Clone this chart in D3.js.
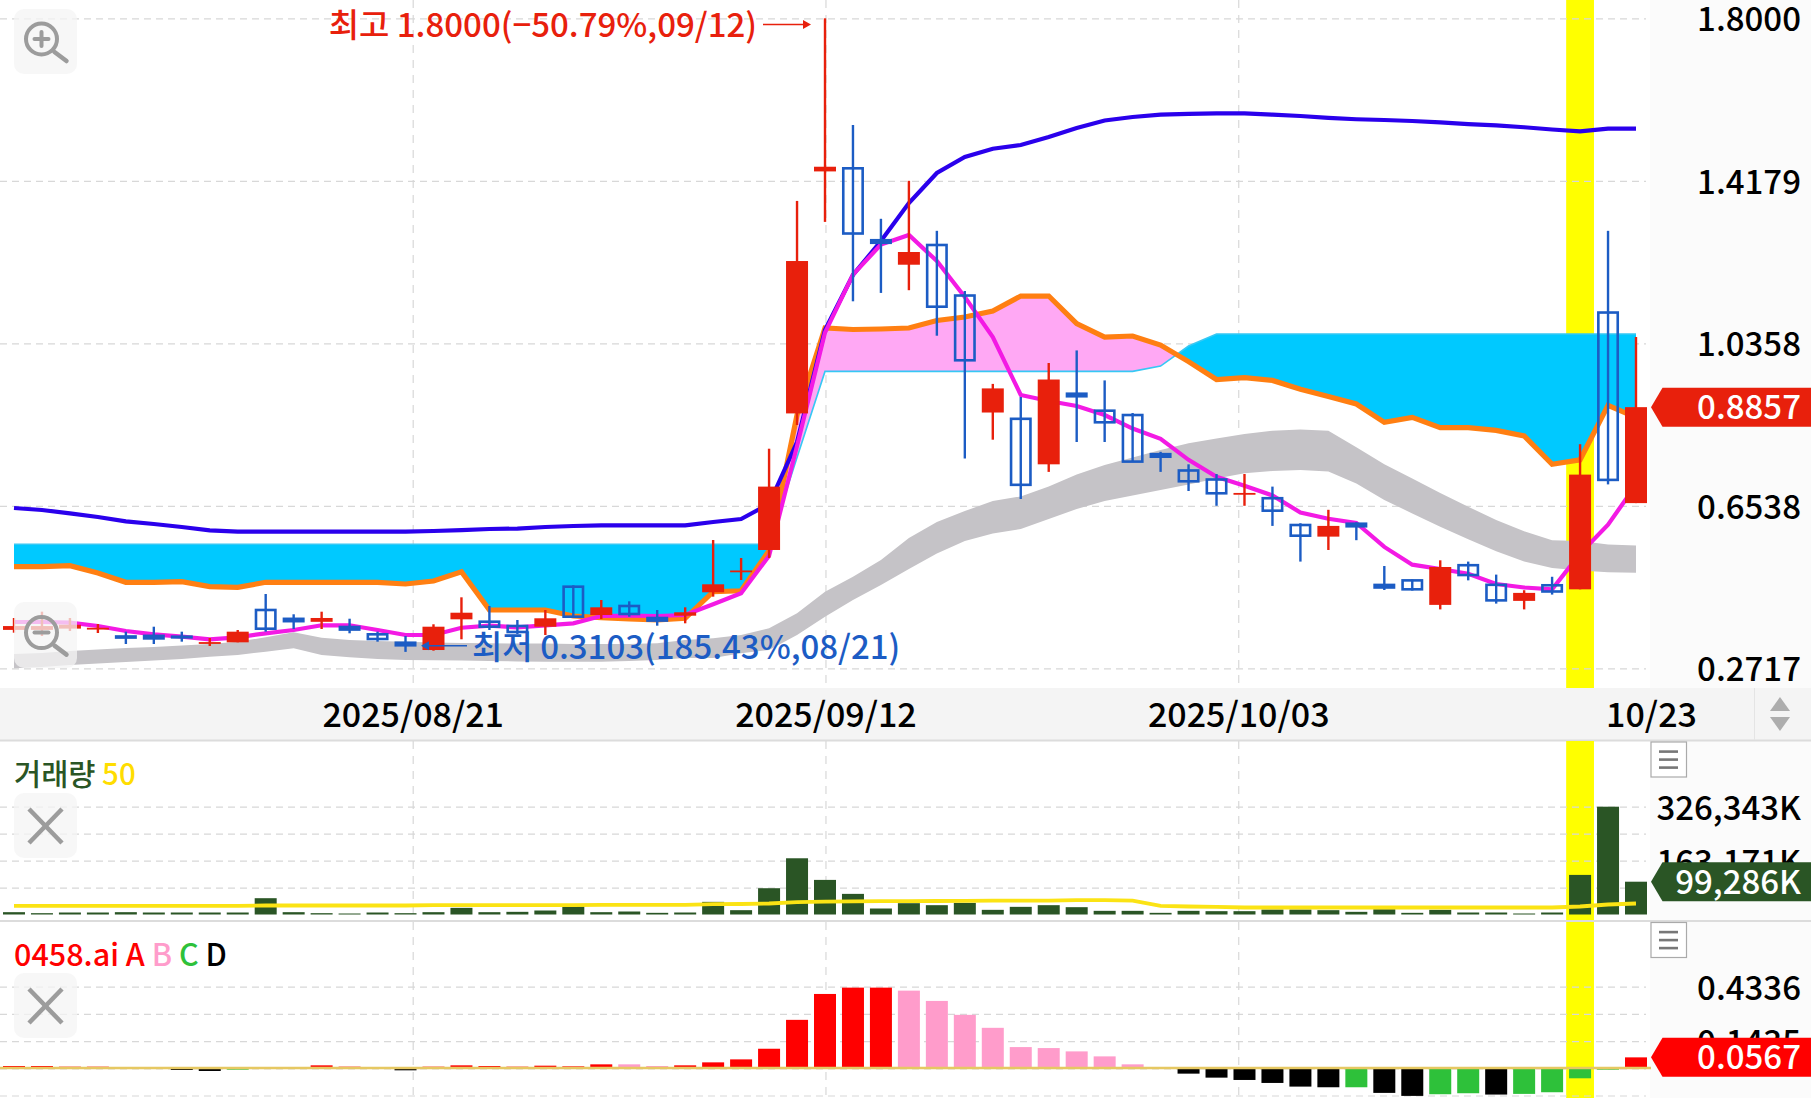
<!DOCTYPE html>
<html><head><meta charset="utf-8">
<script src="https://cdnjs.cloudflare.com/ajax/libs/d3/7.8.5/d3.min.js"></script>
<style>
html,body{margin:0;padding:0;background:#fff;overflow:hidden}
svg{display:block}
text{font-family:"Noto Sans CJK KR","Noto Sans",sans-serif;font-weight:500}
</style></head><body><div id="chart"></div>
<script>
const dates=["08/01","08/04","08/05","08/06","08/07","08/08","08/11","08/12","08/13","08/14","08/15","08/18","08/19","08/20","08/21","08/22","08/25","08/26","08/27","08/28","08/29","09/02","09/03","09/04","09/05","09/08","09/09","09/10","09/11","09/12","09/15","09/16","09/17","09/18","09/19","09/22","09/23","09/24","09/25","09/26","09/29","09/30","10/01","10/02","10/03","10/06","10/07","10/08","10/09","10/10","10/13","10/14","10/15","10/16","10/17","10/20","10/21","10/22","10/23"];
const opens=[.3620,.3620,.3650,.3660,.3465,.3480,.3460,.3323,.3328,.4088,.3880,.3810,.3688,.3516,.3318,.3147,.3869,.3813,.3712,.3695,.4636,.3970,.4182,.3899,.3954,.4504,.5007,.5499,.8710,1.4400,1.4473,1.2782,1.2206,1.2670,1.1482,.8731,.8583,.7513,.9173,.8774,.8672,.7752,.7368,.7156,.6825,.6716,.6086,.5813,.6116,.4677,.4784,.4208,.5141,.4680,.4302,.4669,.4574,1.1082,.6601];
const closes=[.3710,.3710,.3740,.3670,.3440,.3420,.3445,.3333,.3578,.3648,.3825,.3900,.3628,.3406,.3258,.3695,.4024,.3695,.3571,.3893,.3930,.4151,.3994,.3839,.4034,.4692,.5017,.6989,1.2293,1.4510,1.2940,1.2722,1.2505,1.1219,.9959,.9298,.7031,.9507,.9113,.8501,.7577,.7692,.7114,.6832,.6840,.6423,.5835,.6065,.6056,.4617,.4574,.5099,.4910,.4314,.4490,.4523,.7271,.7147,.8857];
const highs=[.3900,.4048,.3900,.3759,.3578,.3695,.3578,.3430,.3618,.4464,.3987,.4048,.3883,.3578,.3477,.3752,.4386,.4182,.3853,.4088,.4669,.4323,.4292,.4088,.4151,.5734,.5310,.7880,1.3706,1.8000,1.5491,1.3286,1.4179,1.3003,1.1588,.9404,.9096,.9895,1.0191,.9486,.8719,.7807,.7513,.7285,.7285,.6989,.6128,.6444,.6150,.5122,.4805,.5256,.5226,.4920,.4553,.4869,.7986,1.3003,1.0506];
const lows=[.3554,.3477,.3594,.3547,.3288,.3288,.3343,.3241,.3328,.3578,.3641,.3641,.3540,.3343,.3103,.3131,.3399,.3618,.3524,.3500,.3916,.3876,.3930,.3719,.3775,.4401,.4793,.5310,.8437,1.3213,1.1346,1.1543,1.1607,1.0537,.7650,.8092,.6698,.7335,.8038,.8038,.7568,.7335,.6886,.6538,.6538,.6065,.5226,.5499,.5729,.4558,.4544,.4102,.4785,.4238,.4102,.4450,.4574,.7041,.6601];
const upperLine=[.6486,.6439,.6359,.6274,.6171,.6110,.6039,.5959,.5929,.5929,.5929,.5929,.5929,.5929,.5929,.5945,.5968,.5992,.6002,.6039,.6063,.6077,.6077,.6077,.6077,.6157,.6227,.6580,.8038,1.0671,1.1964,1.2764,1.3657,1.4362,1.4739,1.4934,1.5021,1.5209,1.5420,1.5597,1.5679,1.5733,1.5754,1.5764,1.5764,1.5733,1.5703,1.5658,1.5627,1.5609,1.5585,1.5554,1.5514,1.5482,1.5439,1.5385,1.5343,1.5406,1.5406];
const orangeLine=[.5106,.5106,.5129,.4958,.4739,.4739,.4753,.4636,.4621,.4739,.4739,.4739,.4739,.4739,.4699,.4769,.4988,.4088,.4088,.4088,.3947,.3907,.3876,.3853,.3893,.4518,.4541,.5482,.8672,1.0718,1.0683,1.0695,1.0718,1.0894,1.0977,1.1118,1.1470,1.1470,1.0819,1.0506,1.0530,1.0318,.9928,.9507,.9549,.9486,.9277,.9110,.8931,.8501,.8616,.8374,.8374,.8310,.8179,.7513,.7619,.8898,.8616];
const spanLine=[.5635,.5635,.5635,.5635,.5635,.5635,.5635,.5635,.5635,.5635,.5635,.5635,.5635,.5635,.5635,.5635,.5635,.5635,.5635,.5635,.5635,.5635,.5635,.5635,.5635,.5635,.5635,.5635,.7671,.9698,.9698,.9698,.9698,.9698,.9698,.9698,.9698,.9698,.9698,.9698,.9698,.9824,1.0295,1.0577,1.0577,1.0577,1.0577,1.0577,1.0577,1.0577,1.0577,1.0577,1.0577,1.0577,1.0577,1.0577,1.0577,1.0577,1.0577];
const magentaLine=[.3806,.3806,.3789,.3712,.3594,.3516,.3460,.3399,.3446,.3540,.3618,.3728,.3728,.3618,.3500,.3500,.3671,.3718,.3681,.3728,.3775,.3947,.3954,.3947,.3970,.4222,.4480,.5364,.7944,1.0610,1.1973,1.2679,1.2905,1.2293,1.1447,1.0506,.9143,.9002,.8884,.8672,.8353,.8113,.7619,.7219,.7010,.6780,.6380,.6232,.6133,.5571,.5153,.5052,.4941,.4699,.4617,.4574,.5414,.6096,.7026];
const grayTop=[.3053,.3076,.3124,.3159,.3194,.3218,.3253,.3288,.3342,.3446,.3563,.3436,.3382,.3359,.3342,.3323,.3312,.3305,.3300,.3300,.3288,.3288,.3288,.3305,.3382,.3422,.3500,.3657,.4010,.4518,.4871,.5263,.5780,.6157,.6415,.6650,.6759,.6989,.7271,.7497,.7671,.7850,.8007,.8122,.8228,.8301,.8332,.8301,.7913,.7513,.7177,.6841,.6516,.6204,.5938,.5729,.5710,.5625,.5604];
const grayBottom=[.2717,.2747,.2794,.2830,.2865,.2900,.2936,.2990,.3030,.3107,.3187,.3030,.2976,.2936,.2912,.2905,.2900,.2889,.2877,.2872,.2872,.2872,.2889,.2912,.2959,.2959,.3070,.3147,.3500,.3930,.4323,.4676,.5052,.5414,.5710,.5886,.5992,.6227,.6462,.6650,.6780,.6909,.7040,.7177,.7304,.7356,.7379,.7346,.7062,.6674,.6359,.6044,.5750,.5468,.5226,.5078,.5016,.4974,.4962];
const volumes=[7050,4030,6040,6040,7050,6040,6040,6040,6040,49350,7050,4030,3020,6040,4030,7050,20140,7050,8060,12090,25180,7050,9060,5040,6040,38270,13090,79570,170220,104750,62450,18130,34240,28200,35250,14100,23160,28200,22160,11080,11080,5040,11080,10070,10070,15110,15110,13090,8060,16110,5040,14100,6040,6040,3020,6040,119860,326343,99286];
const volumeMA=[26190,26190,26190,26190,26190,26190,26190,26190,26190,27190,27190,27190,27190,27190,27190,28200,28200,28200,28200,28200,28200,29210,29210,29210,29210,31220,31720,33240,37270,39280,39790,40290,40290,40800,41300,41800,42300,42300,43310,43310,42300,26190,24170,23170,21150,21150,21150,21150,21150,21150,21150,21150,21150,21150,21150,21150,24170,30210,33240];
const signalValues=[.0106,.0106,.0071,.0071,.0053,-.0053,-.0106,-.0159,-.0089,-.0053,.0053,.0142,.0071,.0053,-.0124,.0071,.0142,.0106,.0071,.0124,.0089,.0195,.0195,.0106,.0142,.0301,.0460,.1027,.2568,.3949,.4286,.4286,.4126,.3577,.2834,.2143,.1116,.1063,.0886,.0620,.0195,.0053,-.0301,-.0514,-.0638,-.0797,-.0992,-.1027,-.1027,-.1328,-.1488,-.1399,-.1346,-.1417,-.1381,-.1293,-.0549,-.0089,.0567];
const signalClass=["A","A","A","A","A","D","D","D","C","C","A","A","A","A","D","A","A","A","A","A","A","A","B","B","A","A","A","A","A","A","A","A","B","B","B","B","B","B","B","B","B","A","D","D","D","D","D","D","C","D","D","C","C","D","C","C","C","C","A"];
const priceTicks=[1.8000,1.4179,1.0358,0.6538,0.2717];
const volumeGrid=[326343,244757,163171,81586];
const volumeLabels=[326343,163171];
const signalGrid=[0.4336,0.28855,0.1435,-0.00155,-0.1466];
const signalLabels=[0.4336,0.1435];
const gridLabels=["2025/08/21","2025/09/12","2025/10/03","10/23"];
const highlightDate="10/21";
const lastPrice=0.8857,lastVolume=99286,lastSignal=0.0567;
const highNote="최고 1.8000(−50.79%,09/12)",lowNote="최저 0.3103(185.43%,08/21)";

const W=1811,H=1098;
const C={red:"#e8200c",blue:"#1c5cc4",green:"#2a5525",A:"#ff0000",B:"#ff9ccb",C:"#2ec13a",D:"#000000"};
const svg=d3.select("#chart").append("svg").attr("width",W).attr("height",H);
svg.append("rect").attr("width",W).attr("height",H).attr("fill","#fff");
svg.append("rect").attr("x",1650).attr("width",W-1650).attr("height",H).attr("fill","#fbfbfb");

const x=d3.scalePoint().domain(dates).range([14,1636]);
const xTick=d3.scalePoint().domain(gridLabels).range([412.7,1651]);
const y=d3.scaleLinear().domain([0.2717,1.8]).range([668.3,18.3]);
const yV=d3.scaleLinear().domain([0,326343]).range([914.5,806.7]);
const yS=d3.scaleLinear().domain([0,0.4336]).range([1068,986.7]);
const idx=dates.map((d,i)=>i);
const BW=22;

// axis strip
svg.append("rect").attr("y",688).attr("width",W).attr("height",52).attr("fill","#f4f4f4");
svg.append("line").attr("x1",0).attr("x2",W).attr("y1",740.5).attr("y2",740.5).attr("stroke","#dcdcdc").attr("stroke-width",2);
svg.append("line").attr("x1",0).attr("x2",W).attr("y1",921).attr("y2",921).attr("stroke","#dcdcdc").attr("stroke-width",2);
svg.append("line").attr("x1",1754.5).attr("x2",1754.5).attr("y1",688).attr("y2",740).attr("stroke","#e4e4e4");

// highlight band
[[0,688],[741,920],[922,1098]].forEach(([a,b])=>{
  svg.append("rect").attr("x",x(highlightDate)-13.9).attr("width",27.8).attr("y",a).attr("height",b-a).attr("fill","#ffff00");
});

// grids
function hGrid(scale,vals){
  const g=svg.append("g").call(d3.axisRight(scale).tickValues(vals).tickSize(1646).tickFormat(""));
  g.select(".domain").remove();
  g.selectAll("line").attr("stroke","#d8d8d8").attr("stroke-width",1.2).attr("stroke-dasharray","7,5");
}
hGrid(y,priceTicks);hGrid(yV,volumeGrid);hGrid(yS,signalGrid);
[[0,684],[741,920],[922,1098]].forEach(([a,b])=>{
  const g=svg.append("g").attr("transform",`translate(0,${a})`)
    .call(d3.axisBottom(xTick).tickValues(gridLabels.slice(0,3)).tickSize(b-a).tickFormat(""));
  g.select(".domain").remove();
  g.selectAll("line").attr("stroke","#d8d8d8").attr("stroke-width",1.2).attr("stroke-dasharray","8,7");
});

// cloud
const defs=svg.append("defs");
const X=i=>x(dates[i]);
const PH=688;
defs.append("clipPath").attr("id","aboveSpan").append("path").attr("d",d3.area().x(X).y0(0).y1(i=>y(spanLine[i]))(idx));
defs.append("clipPath").attr("id","belowSpan").append("path").attr("d",d3.area().x(X).y0(PH).y1(i=>y(spanLine[i]))(idx));
const cloudArea=d3.area().x(X).y0(i=>y(spanLine[i])).y1(i=>y(orangeLine[i]));
svg.append("path").attr("d",cloudArea(idx)).attr("fill","#ffa8f4").attr("clip-path","url(#aboveSpan)");
svg.append("path").attr("d",cloudArea(idx)).attr("fill","#00c9ff").attr("clip-path","url(#belowSpan)");
svg.append("path").attr("d",d3.line().x(X).y(i=>y(spanLine[i]))(idx)).attr("fill","none").attr("stroke","#36c8f4").attr("stroke-width",1.6);

// gray band
svg.append("path").attr("d",d3.area().x(X).y0(i=>y(grayBottom[i])).y1(i=>y(grayTop[i]))(idx)).attr("fill","#c5c3c7");

// lines
const ln=arr=>d3.line().x(X).y(i=>y(arr[i]))(idx);
svg.append("path").attr("d",ln(orangeLine)).attr("fill","none").attr("stroke","#ff7f12").attr("stroke-width",5.2);
svg.append("path").attr("d",ln(upperLine)).attr("fill","none").attr("stroke","#2a00ec").attr("stroke-width",4.2);
svg.append("path").attr("d",ln(magentaLine)).attr("fill","none").attr("stroke","#f31ae4").attr("stroke-width",4.2);

// candles
const cg=svg.append("g");
idx.forEach(i=>{
  const up=closes[i]>=opens[i],col=up?C.red:C.blue,cx=X(i);
  cg.append("line").attr("x1",cx).attr("x2",cx).attr("y1",y(highs[i])).attr("y2",y(lows[i])).attr("stroke",col).attr("stroke-width",2.4);
  const t=y(Math.max(opens[i],closes[i])),b=y(Math.min(opens[i],closes[i]));
  if(up){
    cg.append("rect").attr("x",cx-BW/2).attr("width",BW).attr("y",t).attr("height",Math.max(b-t,1.8)).attr("fill",col);
  }else{
    cg.append("rect").attr("x",cx-BW/2+1.3).attr("width",BW-2.6).attr("y",t).attr("height",Math.max(b-t,.6)).attr("fill","none").attr("stroke",col).attr("stroke-width",2.6);
  }
});

// volume
svg.append("g").selectAll("rect").data(volumes).join("rect")
  .attr("x",(d,i)=>X(i)-BW/2).attr("width",BW).attr("y",d=>yV(d)).attr("height",d=>yV(0)-yV(d)).attr("fill",C.green);
svg.append("path").attr("d",d3.line().x(X).y(i=>yV(volumeMA[i]))(idx)).attr("fill","none").attr("stroke","#fbe314").attr("stroke-width",3.8);

// signal
svg.append("g").selectAll("rect").data(signalValues).join("rect")
  .attr("x",(d,i)=>X(i)-BW/2).attr("width",BW)
  .attr("y",d=>Math.min(yS(d),yS(0))).attr("height",d=>Math.abs(yS(d)-yS(0)))
  .attr("fill",(d,i)=>C[signalClass[i]]);
svg.append("line").attr("x1",0).attr("x2",1651).attr("y1",yS(0)).attr("y2",yS(0)).attr("stroke","#e6c862").attr("stroke-width",2.4);

// right labels
function rAxis(scale,vals,fmt){
  const g=svg.append("g").attr("transform","translate(1801,0)")
    .call(d3.axisLeft(scale).tickValues(vals).tickSize(0).tickPadding(0).tickFormat(fmt));
  g.select(".domain").remove();
  g.selectAll("text").attr("fill","#000").attr("font-size",33).attr("font-family",null).attr("text-anchor","end").attr("dy",".38em");
}
rAxis(y,priceTicks,d3.format(".4f"));
rAxis(yV,volumeLabels,d=>d3.format(",")(d)+"K");
rAxis(yS,signalLabels,d3.format(".4f"));

// time axis
const ax=svg.append("g").attr("transform","translate(0,715)").call(d3.axisBottom(xTick).tickSize(0).tickPadding(0));
ax.select(".domain").remove();
ax.selectAll("text").attr("fill","#000").attr("font-size",34).attr("font-family",null).attr("dy",".36em");

// value tags
function tag(yy,txt,fill){
  const h=19.5;
  svg.append("path").attr("d",`M1651,${yy}L1662.5,${yy-h}H1811V${yy+h}H1662.5Z`).attr("fill",fill);
  svg.append("text").attr("x",1801).attr("y",yy).attr("dy",".36em").attr("text-anchor","end").attr("font-size",33).attr("fill","#fff").text(txt);
}
tag(y(lastPrice),d3.format(".4f")(lastPrice),C.red);
tag(yV(lastVolume),d3.format(",")(lastVolume)+"K",C.green);
tag(yS(lastSignal),d3.format(".4f")(lastSignal),"#ff0000");

// annotations
function arrow(x1,x2,yy,col){
  const d=x2>x1?1:-1;
  svg.append("line").attr("x1",x1).attr("x2",x2-d*6).attr("y1",yy).attr("y2",yy).attr("stroke",col).attr("stroke-width",1.6);
  svg.append("path").attr("d",`M${x2},${yy}L${x2-d*8},${yy-4.5}V${yy+4.5}Z`).attr("fill",col);
}
svg.append("text").attr("x",757).attr("y",25).attr("dy",".36em").attr("text-anchor","end").attr("font-size",33).attr("fill",C.red).text(highNote);
arrow(763,811,24.5,C.red);
arrow(467,421,645.7,C.blue);
svg.append("text").attr("x",472).attr("y",647).attr("dy",".36em").attr("font-size",33).attr("fill",C.blue).text(lowNote);

// legends
const l1=svg.append("text").attr("x",14).attr("y",774).attr("dy",".36em").attr("font-size",29.5).attr("font-weight",700);
l1.append("tspan").attr("fill",C.green).text("거래량 ");
l1.append("tspan").attr("fill","#ffdd00").text("50");
const l2=svg.append("text").attr("x",14).attr("y",955).attr("dy",".36em").attr("font-size",30.5);
[["0458.ai A ",C.A],["B ",C.B],["C ",C.C],["D",C.D]].forEach(([t,c])=>l2.append("tspan").attr("fill",c).text(t));

// icons
function box(yy,h){svg.append("rect").attr("x",14).attr("y",yy).attr("width",63).attr("height",h).attr("rx",10).attr("fill","#f4f4f4").attr("fill-opacity",.75);}
function lens(cy,plus){
  const cx=41.5,g=svg.append("g").attr("stroke","#9c9c9c").attr("fill","none").attr("stroke-linecap","round");
  g.append("circle").attr("cx",cx).attr("cy",cy).attr("r",15.5).attr("stroke-width",4);
  g.append("line").attr("x1",cx+13).attr("y1",cy+13).attr("x2",cx+25).attr("y2",cy+22).attr("stroke-width",4.5);
  g.append("line").attr("x1",cx-7).attr("x2",cx+7).attr("y1",cy).attr("y2",cy).attr("stroke-width",4);
  if(plus)g.append("line").attr("x1",cx).attr("x2",cx).attr("y1",cy-7).attr("y2",cy+7).attr("stroke-width",4);
}
box(9,65);lens(39,true);
box(602,66);lens(632.6,false);
function closeIcon(top,a,b){
  box(top,65);
  const g=svg.append("g").attr("stroke","#9c9c9c").attr("stroke-width",4.5);
  g.append("line").attr("x1",29).attr("x2",62).attr("y1",a).attr("y2",b);
  g.append("line").attr("x1",62).attr("x2",29).attr("y1",a).attr("y2",b);
}
closeIcon(793,809,843);closeIcon(973,989,1023);
function menu(top){
  svg.append("rect").attr("x",1651).attr("y",top).attr("width",35.5).attr("height",35).attr("fill","#fff").attr("stroke","#aaa").attr("stroke-width",1.2);
  [9.5,17.5,25.5].forEach(d=>svg.append("rect").attr("x",1659).attr("width",19).attr("y",top+d-1.2).attr("height",2.6).attr("fill","#777"));
}
menu(742);menu(922.5);
svg.append("path").attr("d","M1780,697L1790,711H1770Z").attr("fill","#adadad");
svg.append("path").attr("d","M1780,731L1790,717H1770Z").attr("fill","#adadad");
</script></body></html>
